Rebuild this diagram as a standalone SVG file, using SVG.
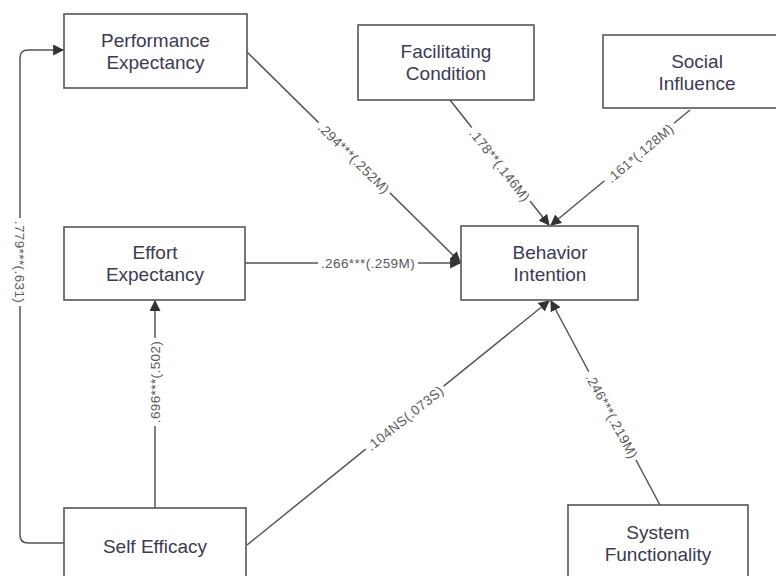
<svg xmlns="http://www.w3.org/2000/svg" width="776" height="576" viewBox="0 0 776 576">
<style>
.box{fill:#fff;stroke:#555;stroke-width:1.6}
.t{font-family:"Liberation Sans",Arial,sans-serif;font-size:19px;fill:#3b3b52;text-anchor:middle}
.c{fill:none;stroke:#555;stroke-width:1.5}
.bg{fill:#fff}
.l{font-family:"Liberation Sans",Arial,sans-serif;font-size:13.5px;fill:#5a5a5a;text-anchor:middle;letter-spacing:0.4px}
</style>
<defs>
<marker id="ah" viewBox="0 0 10 10" refX="9" refY="5" markerWidth="11" markerHeight="11" markerUnits="userSpaceOnUse" orient="auto">
<path d="M0,0 L10,5 L0,10 z" fill="#333"/>
</marker>
</defs>
<rect width="776" height="576" fill="#fff"/>
<g id="connectors">
<path class="c" d="M247,52 L460,262" marker-end="url(#ah)"/>
<path class="c" d="M450,100 L549,225" marker-end="url(#ah)"/>
<path class="c" d="M690,110 L551,225" marker-end="url(#ah)"/>
<path class="c" d="M245,263 L460,263" marker-end="url(#ah)"/>
<path class="c" d="M155,508 L155,301" marker-end="url(#ah)"/>
<path class="c" d="M64,543 H28 Q20,543 20,535 V58 Q20,50 28,50 H63" marker-end="url(#ah)"/>
<path class="c" d="M247,545 L549,301" marker-end="url(#ah)"/>
<path class="c" d="M660,505 L551,301" marker-end="url(#ah)"/>
<g transform="translate(354,158) rotate(44.6)"><rect class="bg" x="-50" y="-8" width="100" height="16"/><text class="l" y="5">.294***(.252M)</text></g>
<g transform="translate(500,165) rotate(51.6)"><rect class="bg" x="-47" y="-8" width="94" height="16"/><text class="l" y="5">.178**(.146M)</text></g>
<g transform="translate(640,153) rotate(-40.2)"><rect class="bg" x="-45" y="-8" width="90" height="16"/><text class="l" y="5">.161*(.128M)</text></g>
<g transform="translate(368,263)"><rect class="bg" x="-50" y="-8" width="100" height="16"/><text class="l" y="5">.266***(.259M)</text></g>
<g transform="translate(155,382) rotate(-90)"><rect class="bg" x="-44" y="-8" width="88" height="16"/><text class="l" y="5">.696***(.502)</text></g>
<g transform="translate(20,262) rotate(90)"><rect class="bg" x="-44" y="-8" width="88" height="16"/><text class="l" y="5">.779***(.631)</text></g>
<g transform="translate(405,418) rotate(-38.9)"><rect class="bg" x="-50" y="-8" width="100" height="16"/><text class="l" y="5">.104NS(.073S)</text></g>
<g transform="translate(612,416) rotate(61.5)"><rect class="bg" x="-50" y="-8" width="100" height="16"/><text class="l" y="5">.246***(.219M)</text></g>
</g>
<g id="performance-expectancy">
<rect class="box" x="64" y="14" width="183" height="74"/>
<text class="t" x="155.5" y="47">Performance</text>
<text class="t" x="155.5" y="69">Expectancy</text>
</g>
<g id="facilitating-condition">
<rect class="box" x="358" y="25" width="176" height="75"/>
<text class="t" x="446" y="58">Facilitating</text>
<text class="t" x="446" y="80">Condition</text>
</g>
<g id="social-influence">
<rect class="box" x="603" y="35" width="188" height="73"/>
<text class="t" x="697" y="68">Social</text>
<text class="t" x="697" y="90">Influence</text>
</g>
<g id="effort-expectancy">
<rect class="box" x="64" y="227" width="181" height="73"/>
<text class="t" x="155" y="259">Effort</text>
<text class="t" x="155" y="281">Expectancy</text>
</g>
<g id="behavior-intention">
<rect class="box" x="461" y="226" width="177" height="74"/>
<text class="t" x="550" y="259">Behavior</text>
<text class="t" x="550" y="281">Intention</text>
</g>
<g id="self-efficacy">
<rect class="box" x="64" y="508" width="182" height="82"/>
<text class="t" x="155" y="553">Self Efficacy</text>
</g>
<g id="system-functionality">
<rect class="box" x="568" y="505" width="180" height="85"/>
<text class="t" x="658" y="539">System</text>
<text class="t" x="658" y="561">Functionality</text>
</g>
</svg>
